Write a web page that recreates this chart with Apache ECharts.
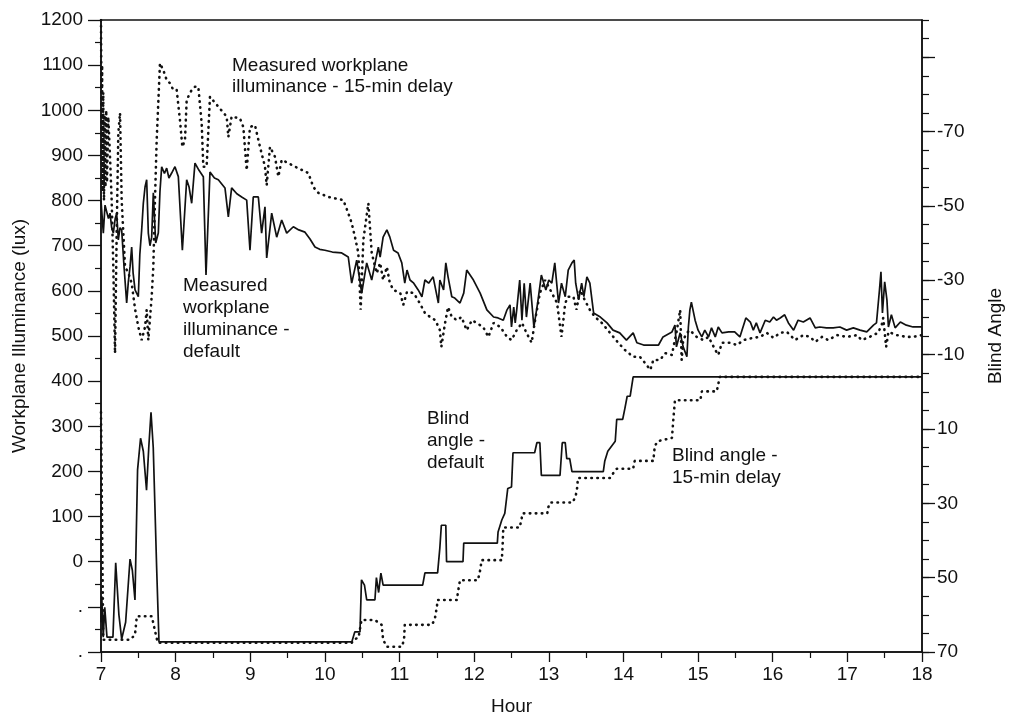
<!DOCTYPE html>
<html>
<head>
<meta charset="utf-8">
<script src="https://cdn.jsdelivr.net/npm/echarts@6.0.0/dist/echarts.min.js"></script>
<style>
  html, body { margin: 0; padding: 0; background: #fff; }
  #chart { width: 1009px; height: 718px; }
</style>
</head>
<body>
<div id="chart"></div>
<script>
// ---- Data (hour, value) ----
const illumDefault = [[7.0,800],[7.009,801],[7.031,728],[7.054,790],[7.076,786],[7.1,760],[7.121,772],[7.143,740],[7.165,728],[7.19,760],[7.21,772],[7.232,713],[7.255,740],[7.277,735],[7.31,650],[7.344,573],[7.366,620],[7.389,653],[7.411,697],[7.43,640],[7.456,602],[7.5,587],[7.52,680],[7.545,735],[7.567,794],[7.59,830],[7.612,846],[7.634,728],[7.656,700],[7.679,719],[7.701,817],[7.733,706],[7.768,728],[7.79,820],[7.813,875],[7.85,860],[7.88,872],[7.91,850],[7.947,861],[7.991,875],[8.036,853],[8.09,690],[8.148,846],[8.18,830],[8.215,794],[8.259,883],[8.313,867],[8.371,853],[8.407,635],[8.46,863],[8.52,850],[8.572,846],[8.661,828],[8.706,764],[8.75,828],[8.82,815],[8.885,808],[8.952,801],[8.996,690],[9.04,808],[9.108,808],[9.152,728],[9.197,786],[9.22,673],[9.287,772],[9.354,719],[9.421,757],[9.488,728],[9.577,742],[9.65,735],[9.733,730],[9.8,715],[9.867,697],[9.93,692],[10.0,690],[10.1,686],[10.225,684],[10.313,675],[10.359,617],[10.426,668],[10.493,595],[10.56,662],[10.627,624],[10.716,697],
[10.74,675],[10.78,719],[10.83,735],[10.87,719],[10.92,690],[10.98,684],[11.03,662],[11.07,617],[11.10,646],[11.14,624],[11.19,617],[11.25,602],[11.30,587],[11.34,624],[11.39,617],[11.45,631],[11.52,573],[11.54,624],[11.59,602],[11.62,662],[11.65,631],[11.70,587],[11.74,584],[11.81,573],[11.86,595],[11.90,646],[11.99,624],[12.08,595],[12.17,558],[12.26,542],[12.32,540],[12.39,535],[12.44,558],[12.48,569],[12.50,520],[12.53,564],[12.55,529],[12.57,558],[12.61,624],[12.64,535],[12.67,617],[12.70,542],[12.75,617],[12.80,520],[12.85,573],[12.90,635],[12.96,602],[13.00,624],[13.04,617],[13.08,662],[13.13,573],[13.17,617],[13.22,587],[13.26,646],[13.31,662],[13.34,668],[13.36,617],[13.40,580],[13.44,617],[13.47,587],[13.51,631],[13.55,617],[13.60,551],[13.69,542],[13.78,529],[13.86,513],[13.95,507],[14.04,491],[14.13,507],[14.18,485],[14.27,480],[14.31,480],[14.47,480],
[14.53,498],[14.65,509],[14.69,524],[14.71,476],[14.76,507],[14.80,476],[14.85,454],[14.87,520],[14.89,558],[14.91,575],[14.96,535],[15.00,513],[15.05,498],[15.09,513],[15.14,498],[15.18,518],[15.23,498],[15.27,520],[15.32,507],[15.41,509],[15.49,509],[15.56,498],[15.64,540],[15.70,531],[15.74,513],[15.78,529],[15.83,507],[15.90,535],[15.96,531],[16.01,542],[16.05,535],[16.10,540],[16.16,547],[16.21,529],[16.28,513],[16.34,535],[16.41,531],[16.50,540],[16.57,518],[16.63,520],[16.72,518],[16.81,518],[16.90,520],[16.99,513],[17.08,518],[17.17,513],[17.26,509],[17.35,524],[17.39,529],[17.43,602],[17.45,642],[17.47,551],[17.50,620],[17.53,580],[17.55,520],[17.59,547],[17.64,518],[17.71,531],[17.79,524],[17.88,520],[18.0,520]];

const illumDelay = [[7.0,1200],[7.005,1050],[7.01,880],[7.015,1100],[7.02,820],[7.03,1040],[7.04,800],[7.05,990],[7.06,830],[7.07,1000],[7.08,840],[7.098,985],[7.12,900],[7.143,801],[7.165,653],[7.188,462],[7.21,728],[7.232,949],[7.255,994],[7.277,801],[7.322,653],[7.366,640],[7.411,617],[7.456,560],[7.5,520],[7.545,491],[7.59,520],[7.612,558],[7.634,491],[7.679,587],[7.701,653],[7.723,801],[7.746,934],[7.79,1104],[7.835,1089],[7.88,1067],[7.924,1060],[7.969,1045],[8.014,1045],[8.058,978],[8.09,919],[8.125,934],[8.148,1023],[8.215,1045],[8.259,1052],[8.304,1052],[8.349,971],[8.371,875],[8.415,875],[8.46,1030],[8.572,1008],[8.684,986],[8.706,941],[8.75,986],[8.862,982],[8.907,963],[8.952,867],[8.996,963],[9.063,967],[9.13,919],[9.197,875],[9.22,834],[9.264,919],[9.331,897],[9.376,853],[9.421,890],[9.51,883],[9.6,875],[9.778,861],[9.845,830],[9.912,817],[10.046,808],[10.247,801],[10.313,772],[10.359,750],[10.403,719],[10.448,684],[10.479,558],[10.515,713],[10.582,794],[10.627,684],[10.694,639],
[10.74,662],[10.78,624],[10.83,653],[10.87,617],[10.92,602],[11.01,595],[11.05,569],[11.10,598],[11.19,595],[11.27,573],[11.34,551],[11.41,542],[11.48,535],[11.54,513],[11.56,476],[11.61,529],[11.65,564],[11.70,542],[11.77,535],[11.83,542],[11.90,513],[11.97,535],[12.03,529],[12.12,520],[12.19,498],[12.26,529],[12.35,520],[12.44,498],[12.50,491],[12.57,513],[12.64,529],[12.70,507],[12.77,485],[12.81,529],[12.88,595],[12.95,624],[13.02,602],[13.11,573],[13.17,498],[13.22,573],[13.26,587],[13.33,587],[13.37,558],[13.42,602],[13.48,580],[13.55,558],[13.62,542],[13.71,529],[13.82,507],[13.93,485],[14.02,469],[14.13,454],
[14.22,454],[14.29,440],[14.36,425],[14.40,447],[14.49,447],[14.56,462],[14.65,458],[14.67,476],[14.71,507],[14.76,558],[14.78,447],[14.80,491],[14.85,507],[14.89,513],[14.98,498],[15.07,491],[15.14,498],[15.23,469],[15.27,458],[15.32,485],[15.43,485],[15.52,480],[15.61,491],[15.74,496],[15.83,498],[15.92,507],[16.01,496],[16.10,507],[16.19,509],[16.30,491],[16.41,502],[16.50,498],[16.57,487],[16.66,498],[16.74,491],[16.86,502],[16.99,498],[17.13,502],[17.19,491],[17.30,498],[17.41,507],[17.46,524],[17.48,540],[17.52,476],[17.55,509],[17.66,502],[17.79,498],[17.88,498],[18.0,502]];

const blindDefault = [[7.0,62],[7.01,55],[7.02,55],[7.03,66],[7.05,58],[7.07,58],[7.08,66],[7.16,66],[7.197,46],[7.24,60],[7.277,66.5],[7.33,62],[7.389,45],[7.42,48],[7.455,56],[7.49,21],[7.53,12.5],[7.567,16],[7.61,26.5],[7.64,15],[7.67,5.5],[7.70,15],[7.745,47],[7.777,67.3],[10.36,67.3],[10.40,64.6],[10.47,64.6],[10.49,50.6],[10.53,52],[10.56,56],[10.67,56],[10.69,50],[10.72,54],[10.75,48.8],[10.78,52],[11.31,52],[11.34,48.7],[11.51,48.7],[11.54,42],[11.56,35.9],[11.62,35.9],[11.63,45.7],[11.85,45.7],[11.86,40.7],[12.31,40.7],[12.32,37.7],[12.37,34.5],[12.41,32.7],[12.45,26],[12.5,25.6],[12.52,16.4],[12.81,16.4],[12.84,13.7],[12.88,13.7],[12.9,22.5],[13.15,22.5],[13.18,13.7],[13.22,13.7],[13.24,18],[13.28,18],[13.31,21.5],[13.73,21.5],[13.75,18.6],[13.79,16],[13.89,13.3],[13.91,7.4],[13.99,7.4],[14.02,4.4],[14.05,1.2],[14.09,1.2],[14.13,-4],[18.0,-4]];

const blindDelay = [[7.0,5.5],[7.03,66.7],[7.39,66.7],[7.455,65.4],[7.48,60.4],[7.68,60.4],[7.72,64],[7.76,67.5],[10.36,67.5],[10.40,66.5],[10.45,66.2],[10.49,61.4],[10.67,61.4],[10.76,62.7],[10.78,66.7],[10.83,68.6],[11.03,68.6],[11.06,66.7],[11.07,62.7],[11.43,62.7],[11.47,61.4],[11.5,57.9],[11.51,56],[11.77,56],[11.78,54.2],[11.81,50.7],[12.05,50.7],[12.08,48],[12.1,45.3],[12.37,45.3],[12.38,41.9],[12.39,36.5],[12.61,36.5],[12.64,33.7],[12.65,32.7],[12.98,32.7],[12.99,31.2],[13.02,29.8],[13.32,29.8],[13.36,28],[13.38,25.8],[13.39,23.2],[13.82,23.2],[13.86,22],[13.91,20.7],[14.13,20.7],[14.15,18.6],[14.4,18.6],[14.42,14.6],[14.46,13.3],[14.65,12.4],[14.67,7],[14.69,2.3],[15.03,2.3],[15.05,-0.1],[15.25,-0.1],[15.27,-2],[15.29,-4],[18.0,-4]];

const leftTickLabels = {'-200': '.', '-100': '.'};
const rightMajorTicks = [-90, -70, -50, -30, -10, 10, 30, 50, 70];
const rightLabels = [-70, -50, -30, -10, 10, 30, 50, 70];

const FONT = '"Liberation Sans", Arial, Helvetica, sans-serif';
const INK = '#111';
const FS = 19;

const chart = echarts.init(document.getElementById('chart'), null, {renderer: 'canvas'});

const axisLine = {show: true, onZero: false, lineStyle: {color: INK, width: 1.5}};
const solid = {color: INK, width: 1.7};
const dotted = {color: INK, width: 2.6, type: [0.5, 5.5], cap: 'round'};

chart.setOption({
  animation: false,
  backgroundColor: '#fff',
  grid: {left: 101, right: 87, top: 20, bottom: 66, containLabel: false, outerBoundsMode: 'none',
         show: true, borderColor: INK, borderWidth: 1.5, backgroundColor: 'transparent'},
  xAxis: {
    type: 'value', min: 7, max: 18, interval: 1,
    name: 'Hour', nameLocation: 'middle', nameGap: 45,
    nameTextStyle: {fontFamily: FONT, fontSize: FS, color: INK},
    axisLine: axisLine,
    axisTick: {show: true, inside: false, length: 10, lineStyle: {color: INK, width: 1.3}},
    minorTick: {show: true, splitNumber: 2, length: 6, lineStyle: {color: INK, width: 1.2}},
    axisLabel: {fontFamily: FONT, fontSize: FS, color: INK, margin: 13},
    splitLine: {show: false}
  },
  yAxis: [
    {
      type: 'value', min: -200, max: 1200, interval: 100, position: 'left',
      name: 'Workplane Illuminance (lux)', nameLocation: 'middle', nameGap: 72, nameRotate: 90,
      nameTextStyle: {fontFamily: FONT, fontSize: FS, color: INK},
      axisLine: axisLine,
      axisTick: {show: true, length: 13, lineStyle: {color: INK, width: 1.3}},
      minorTick: {show: true, splitNumber: 2, length: 6, lineStyle: {color: INK, width: 1.2}},
      axisLabel: {fontFamily: FONT, fontSize: FS, color: INK, margin: 18,
        formatter: v => (leftTickLabels[String(v)] !== undefined ? leftTickLabels[String(v)] : String(v))},
      splitLine: {show: false}
    },
    {
      type: 'value', min: -100, max: 70, interval: 5, inverse: true, position: 'right',
      name: 'Blind Angle', nameLocation: 'middle', nameGap: 64, nameRotate: 90,
      nameTextStyle: {fontFamily: FONT, fontSize: FS, color: INK},
      axisLine: axisLine,
      axisTick: {show: true, length: 7, lineStyle: {color: INK, width: 1.2}},
      axisLabel: {show: false},
      splitLine: {show: false}
    },
    {
      type: 'value', min: -100, max: 70, interval: 5, inverse: true, position: 'right',
      axisLine: {show: false, onZero: false},
      axisTick: {show: true, length: 13, customValues: rightMajorTicks, lineStyle: {color: INK, width: 1.3}},
      axisLabel: {show: true, customValues: rightLabels, fontFamily: FONT, fontSize: FS, color: INK, margin: 15},
      splitLine: {show: false}
    }
  ],
  series: [
    {name: 'Measured workplane illuminance - default', type: 'line', yAxisIndex: 0, data: illumDefault,
     showSymbol: false, lineStyle: solid, z: 3},
    {name: 'Measured workplane illuminance - 15-min delay', type: 'line', yAxisIndex: 0, data: illumDelay,
     showSymbol: false, lineStyle: dotted, z: 2},
    {name: 'Blind angle - default', type: 'line', yAxisIndex: 1, data: blindDefault,
     showSymbol: false, lineStyle: solid, z: 3},
    {name: 'Blind angle - 15-min delay', type: 'line', yAxisIndex: 1, data: blindDelay,
     showSymbol: false, lineStyle: dotted, z: 2}
  ],
  graphic: [
    {type: 'text', left: 232, top: 55, style: {text: 'Measured workplane\nilluminance - 15-min delay', font: FS + 'px ' + FONT, fill: INK, lineHeight: 21}},
    {type: 'text', left: 183, top: 275, style: {text: 'Measured\nworkplane\nilluminance -\ndefault', font: FS + 'px ' + FONT, fill: INK, lineHeight: 22}},
    {type: 'text', left: 427, top: 408, style: {text: 'Blind\nangle -\ndefault', font: FS + 'px ' + FONT, fill: INK, lineHeight: 22}},
    {type: 'text', left: 672, top: 445, style: {text: 'Blind angle -\n15-min delay', font: FS + 'px ' + FONT, fill: INK, lineHeight: 22}}
  ]
});
</script>
</body>
</html>
